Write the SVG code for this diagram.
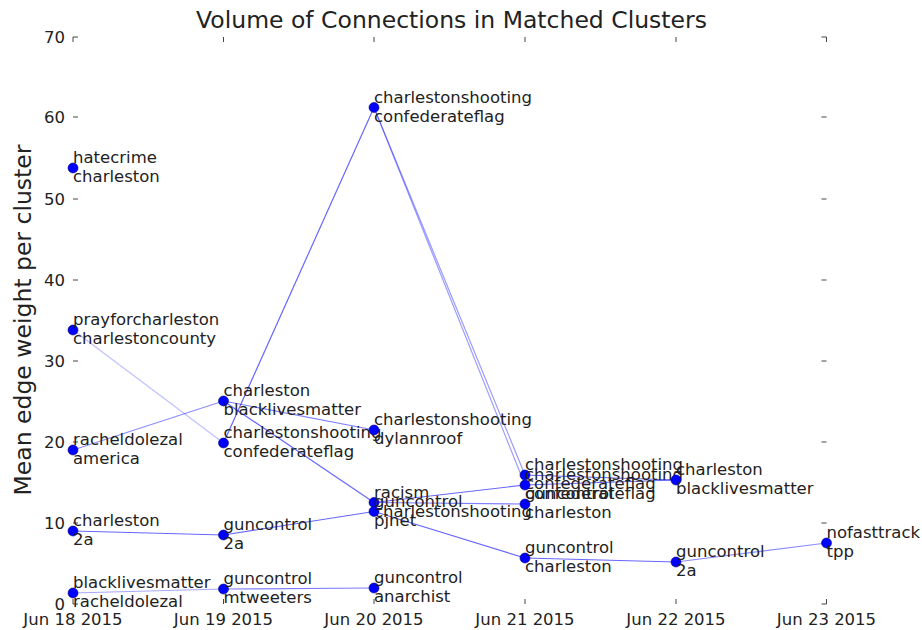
<svg xmlns="http://www.w3.org/2000/svg" width="922" height="630" viewBox="0 0 922 630">
<style>
text{font-family:"DejaVu Sans","Liberation Sans",sans-serif;fill:#222}
.lbl{font-size:16.5px}
.tk{font-size:16.5px}
.ttl{font-size:23.5px}
.tick{stroke:#444;stroke-width:1;fill:none}
.e{stroke:#0000ff;stroke-width:1.2;fill:none}
.n circle{fill:#0000ff;stroke:#00007a;stroke-width:0.6}
</style>
<rect width="922" height="630" fill="#fff"/>
<text class="ttl" x="451.5" y="28" text-anchor="middle">Volume of Connections in Matched Clusters</text>
<text class="ttl" transform="translate(31,320) rotate(-90)" text-anchor="middle">Mean edge weight per cluster</text>
<g id="axes">
<path class="tick" d="M73,604h5M73,523h5M73,442h5M73,361h5M73,280h5M73,199h5M73,117h5M73,37h5M826.5,604h-5M826.5,523h-5M826.5,442h-5M826.5,361h-5M826.5,280h-5M826.5,199h-5M826.5,117h-5M826.5,37h-5M73,604v-5M223.5,604v-5M374,604v-5M525,604v-5M676,604v-5M826.5,604v-5M73,37v5M223.5,37v5M374,37v5M525,37v5M676,37v5M826.5,37v5"/>
<g class="tk" text-anchor="end">
<text x="65" y="609.5">0</text><text x="65" y="528.5">10</text><text x="65" y="447.5">20</text><text x="65" y="366.5">30</text><text x="65" y="285.5">40</text><text x="65" y="204.5">50</text><text x="65" y="122.5">60</text><text x="65" y="42.5">70</text>
</g>
<g class="tk" text-anchor="middle">
<text x="73" y="625">Jun 18 2015</text><text x="223.5" y="625">Jun 19 2015</text><text x="374" y="625">Jun 20 2015</text><text x="525" y="625">Jun 21 2015</text><text x="676" y="625">Jun 22 2015</text><text x="826.5" y="625">Jun 23 2015</text>
</g>
</g>
<g id="connectors">
<line class="e" x1="73" y1="330" x2="223.5" y2="443" stroke-opacity="0.25"/>
<line class="e" x1="73" y1="450" x2="223.5" y2="401" stroke-opacity="0.45"/>
<line class="e" x1="73" y1="531" x2="223.5" y2="535" stroke-opacity="0.6"/>
<line class="e" x1="73" y1="593" x2="223.5" y2="589" stroke-opacity="0.35"/>
<line class="e" x1="223.5" y1="589" x2="374" y2="588" stroke-opacity="0.5"/>
<line class="e" x1="223.5" y1="535" x2="374" y2="511.5" stroke-opacity="0.6"/>
<line class="e" x1="223.5" y1="401" x2="374" y2="430" stroke-opacity="0.5"/>
<line class="e" x1="223.5" y1="401" x2="374" y2="502.5" stroke-opacity="0.6"/>
<line class="e" x1="223.5" y1="443" x2="374" y2="107.5" stroke-opacity="0.6"/>
<line class="e" x1="374" y1="107.5" x2="525" y2="475" stroke-opacity="0.4"/>
<line class="e" x1="374" y1="107.5" x2="525" y2="485" stroke-opacity="0.4"/>
<line class="e" x1="374" y1="502.5" x2="525" y2="485" stroke-opacity="0.6"/>
<line class="e" x1="374" y1="502.5" x2="525" y2="504" stroke-opacity="0.5"/>
<line class="e" x1="374" y1="511.5" x2="525" y2="558" stroke-opacity="0.6"/>
<line class="e" x1="525" y1="558" x2="676" y2="562" stroke-opacity="0.6"/>
<line class="e" x1="676" y1="562" x2="826.5" y2="543" stroke-opacity="0.45"/>
<line class="e" x1="525" y1="475" x2="676" y2="480" stroke-opacity="0.6"/>
<line class="e" x1="525" y1="485" x2="676" y2="480" stroke-opacity="0.6"/>
</g>
<g id="n1" class="n"><circle cx="73" cy="168" r="5"/><text class="lbl" x="73" y="163">hatecrime</text><text class="lbl" x="73" y="182">charleston</text></g>
<g id="n2" class="n"><circle cx="73" cy="330" r="5"/><text class="lbl" x="73" y="325">prayforcharleston</text><text class="lbl" x="73" y="344">charlestoncounty</text></g>
<g id="n3" class="n"><circle cx="73" cy="450" r="5"/><text class="lbl" x="73" y="445">racheldolezal</text><text class="lbl" x="73" y="464">america</text></g>
<g id="n4" class="n"><circle cx="73" cy="531" r="5"/><text class="lbl" x="73" y="526">charleston</text><text class="lbl" x="73" y="545">2a</text></g>
<g id="n5" class="n"><circle cx="73" cy="593" r="5"/><text class="lbl" x="73" y="588">blacklivesmatter</text><text class="lbl" x="73" y="607">racheldolezal</text></g>
<g id="n6" class="n"><circle cx="223.5" cy="401" r="5"/><text class="lbl" x="223.5" y="396">charleston</text><text class="lbl" x="223.5" y="415">blacklivesmatter</text></g>
<g id="n7" class="n"><circle cx="223.5" cy="443" r="5"/><text class="lbl" x="223.5" y="438">charlestonshooting</text><text class="lbl" x="223.5" y="457">confederateflag</text></g>
<g id="n8" class="n"><circle cx="223.5" cy="535" r="5"/><text class="lbl" x="223.5" y="530">guncontrol</text><text class="lbl" x="223.5" y="549">2a</text></g>
<g id="n9" class="n"><circle cx="223.5" cy="589" r="5"/><text class="lbl" x="223.5" y="584">guncontrol</text><text class="lbl" x="223.5" y="603">mtweeters</text></g>
<g id="n10" class="n"><circle cx="374" cy="107.5" r="5"/><text class="lbl" x="374" y="102.5">charlestonshooting</text><text class="lbl" x="374" y="121.5">confederateflag</text></g>
<g id="n11" class="n"><circle cx="374" cy="430" r="5"/><text class="lbl" x="374" y="425">charlestonshooting</text><text class="lbl" x="374" y="444">dylannroof</text></g>
<g id="n12" class="n"><circle cx="374" cy="502.5" r="5"/><text class="lbl" x="374" y="497.5">racism</text><text class="lbl" x="374" y="516.5">charlestonshooting</text></g>
<g id="n13" class="n"><circle cx="374" cy="511.5" r="5"/><text class="lbl" x="374" y="506.5">guncontrol</text><text class="lbl" x="374" y="525.5">pjnet</text></g>
<g id="n14" class="n"><circle cx="374" cy="588" r="5"/><text class="lbl" x="374" y="583">guncontrol</text><text class="lbl" x="374" y="602">anarchist</text></g>
<g id="n15" class="n"><circle cx="525" cy="475" r="5"/><text class="lbl" x="525" y="470">charlestonshooting</text><text class="lbl" x="525" y="489">confederateflag</text></g>
<g id="n16" class="n"><circle cx="525" cy="485" r="5"/><text class="lbl" x="525" y="480">charlestonshooting</text><text class="lbl" x="525" y="499">confederateflag</text></g>
<g id="n17" class="n"><circle cx="525" cy="504" r="5"/><text class="lbl" x="525" y="499">guncontrol</text><text class="lbl" x="525" y="518">charleston</text></g>
<g id="n18" class="n"><circle cx="525" cy="558" r="5"/><text class="lbl" x="525" y="553">guncontrol</text><text class="lbl" x="525" y="572">charleston</text></g>
<g id="n19" class="n"><circle cx="676" cy="480" r="5"/><text class="lbl" x="676" y="475">charleston</text><text class="lbl" x="676" y="494">blacklivesmatter</text></g>
<g id="n20" class="n"><circle cx="676" cy="562" r="5"/><text class="lbl" x="676" y="557">guncontrol</text><text class="lbl" x="676" y="576">2a</text></g>
<g id="n21" class="n"><circle cx="826.5" cy="543" r="5"/><text class="lbl" x="826.5" y="538">nofasttrack</text><text class="lbl" x="826.5" y="557">tpp</text></g>
</svg>
